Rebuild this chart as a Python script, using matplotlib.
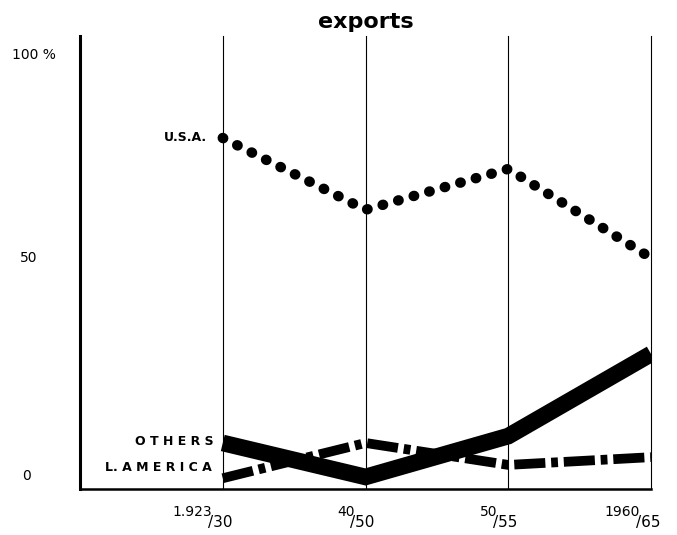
import matplotlib
matplotlib.use("Agg")
import matplotlib.pyplot as plt

# periods (x positions 0..3)
periods = [0, 1, 2, 3]
main_labels = ["1.923", "40", "50", "1960"]
sub_labels = ["/30", "/50", "/55", "/65"]

# export shares, %
usa = [80.0, 63.3, 72.8, 52.1]
others = [9.1, 1.2, 10.7, 29.8]
latin_america = [0.9, 9.1, 4.0, 5.8]

ytick_vals = [0, 50, 100]
ytick_text = ["0", "50", "100 %"]

fig = plt.figure(figsize=(6.77, 5.35), dpi=100)
W, H = 677, 535
ax = fig.add_axes([80 / W, (H - 489) / H, (651 - 80) / W, (489 - 36) / H])
ax.set_xlim(-1, 3)
ax.set_ylim(-1.6, 103.7)

for s in ["top", "right"]:
    ax.spines[s].set_visible(False)
ax.spines["left"].set_linewidth(2.2)
ax.spines["bottom"].set_linewidth(1.8)
ax.set_xticks([])
ax.set_yticks([])

# vertical guides
for p in periods:
    ax.axvline(p, color="black", lw=0.8, clip_on=False)

# U.S.A. - big round dots
ax.plot(periods, usa, color="black", lw=7.5, linestyle=(0, (0.05, 1.5)),
        dash_capstyle="round", dash_joinstyle="round")
# others - heavy solid band
ax.plot(periods, others, color="black", lw=12, solid_joinstyle="miter",
        solid_capstyle="butt")
# L. America - dash dot
ax.plot(periods, latin_america, color="black", lw=7, linestyle=(0, (3.2, 0.6, 0.7, 0.6)),
        dash_capstyle="butt", dash_joinstyle="miter")

# series labels
lab = dict(fontsize=9, fontweight="bold", ha="right", va="center",
           textcoords="offset pixels", xycoords="data")
ax.annotate("U.S.A.", xy=(0, usa[0]), xytext=(-16, 0), **lab)
ax.annotate("O T H E R S", xy=(0, others[0]), xytext=(-9, 1), **lab)
ax.annotate("L. A M E R I C A", xy=(0, latin_america[0]), xytext=(-11, 11), **lab)

# y labels, hand lettered so slightly off the ticks
y_off = [(-58, 6), (-60, 9), (-68, -3)]
for v, t, off in zip(ytick_vals, ytick_text, y_off):
    ax.annotate(t, xy=(0, v), xycoords=("axes fraction", "data"), xytext=off,
                textcoords="offset pixels", ha="left", va="center", fontsize=10)

# x labels: "1.923" raised with "/30" below right
for p, m, s in zip(periods, main_labels, sub_labels):
    ax.annotate(m, xy=(p, 0), xycoords=("data", "axes fraction"), xytext=(-11, -23),
                textcoords="offset pixels", ha="right", va="center", fontsize=10)
    ax.annotate(s, xy=(p, 0), xycoords=("data", "axes fraction"), xytext=(-15, -34),
                textcoords="offset pixels", ha="left", va="center", fontsize=11)

fig.text(366 / W, 1 - 22 / H, "exports", ha="center", va="center",
         fontsize=16, fontweight="bold")

fig.savefig("out.png", dpi=100)
